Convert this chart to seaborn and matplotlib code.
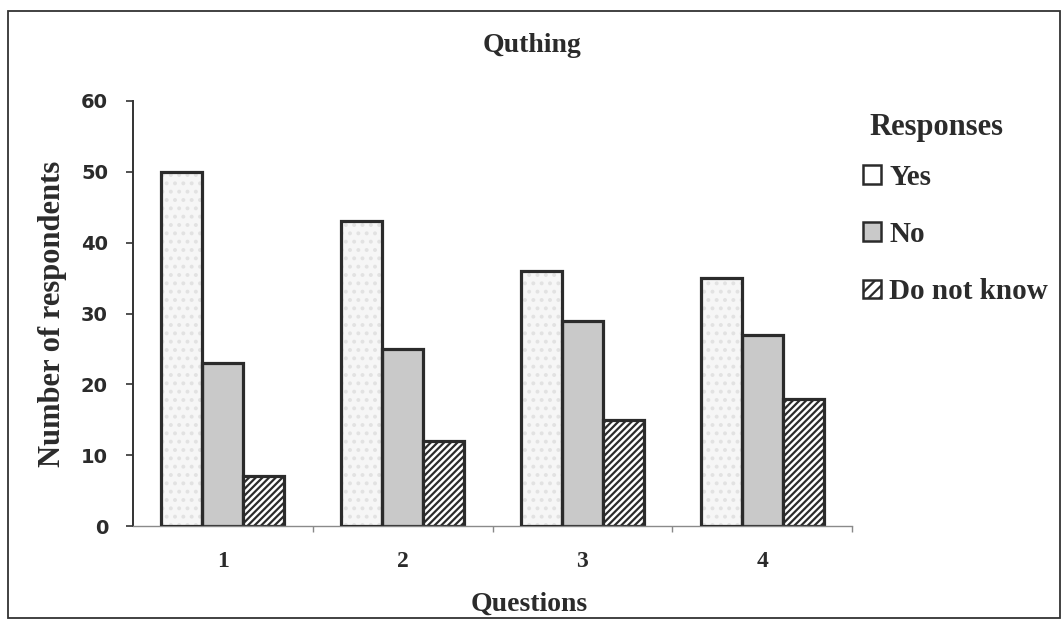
import matplotlib
matplotlib.use("Agg")
import matplotlib.pyplot as plt
import seaborn as sns
import pandas as pd
from matplotlib.patches import Rectangle, Patch
from matplotlib.ticker import FixedLocator

questions = ["1", "2", "3", "4"]
responses = ["Yes", "No", "Do not know"]
yes_counts = [50, 43, 36, 35]
no_counts = [23, 25, 29, 27]
dk_counts = [7, 12, 15, 18]

df = pd.DataFrame({
    "Question": questions * 3,
    "Response": [r for r in responses for _ in questions],
    "Count": yes_counts + no_counts + dk_counts,
})

sns.set_theme(style="white")
plt.rcParams["hatch.linewidth"] = 1.6
serif = ["Liberation Serif", "DejaVu Serif"]
ink = "#2b2b2b"

W, H = 1064, 621
fig = plt.figure(figsize=(W / 100, H / 100), dpi=100)
# plot area: x 133..852 px, y 101..526 px
ax = fig.add_axes([133 / W, 1 - 526 / H, (852 - 133) / W, (526 - 101) / H])

fills = ["#f6f6f6", "#c9c9c9", "#ffffff"]
hatches = ["", "", "/////"]

sns.barplot(data=df, x="Question", y="Count", hue="Response", order=questions,
            hue_order=responses, palette=fills, edgecolor=ink, linewidth=2.3,
            width=0.684, saturation=1, ax=ax, legend=False)
for cont, h in zip(ax.containers, hatches):
    for bar in cont:
        bar.set_hatch(h)

# faint dotted texture inside the "Yes" bars, outline redrawn on top
for bar in ax.containers[0]:
    bar.set_edgecolor("#e2e2e2")
    bar.set_hatch("..")
    bar.set_linewidth(0)
    ax.add_patch(Rectangle(bar.get_xy(), bar.get_width(), bar.get_height(),
                           fill=False, edgecolor=ink, linewidth=2.3, zorder=3))

ax.set_ylim(0, 60)
ax.set_xlim(-0.5, 3.5)
ax.set_yticks(range(0, 61, 10))
ax.set_yticklabels([str(v) for v in range(0, 61, 10)], fontfamily="DejaVu Sans",
                   fontweight="bold", fontsize=14, color=ink)
ax.set_xticks(range(len(questions)))
ax.set_xticklabels(questions, fontfamily=serif, fontweight="bold", fontsize=17,
                   color=ink)
ax.tick_params(axis="y", which="major", length=5, width=1.2, color="#333333",
               direction="out", left=True, pad=13)
ax.tick_params(axis="x", which="major", length=0, pad=18)
ax.xaxis.set_minor_locator(FixedLocator([0.5, 1.5, 2.5, 3.5]))
ax.tick_params(axis="x", which="minor", length=4, width=1, color="#888888",
               direction="out", bottom=True)

for side in ["top", "right"]:
    ax.spines[side].set_visible(False)
ax.spines["left"].set_color("#333333")
ax.spines["left"].set_linewidth(1.4)
ax.spines["bottom"].set_color("#8a8a8a")
ax.spines["bottom"].set_linewidth(1.0)

ax.set_xlabel("Questions", fontfamily=serif, fontweight="bold", fontsize=20,
              color=ink)
ax.xaxis.set_label_coords(0.551, -0.155)
ax.set_ylabel("Number of respondents", fontfamily=serif, fontweight="bold",
              fontsize=22, color=ink)
ax.yaxis.set_label_coords(-0.092, 0.5)

fig.text(0.5, 1 - 46 / H, "Quthing", ha="center", va="center",
         fontfamily=serif, fontweight="bold", fontsize=20, color=ink)

# legend heading and entries
fig.text(869 / W, 1 - 128 / H, "Responses", ha="left", va="center",
         fontfamily=serif, fontweight="bold", fontsize=22, color=ink)
handles = [Patch(facecolor=f, edgecolor=ink, hatch=h, linewidth=1.8)
           for f, h in zip(["#ffffff", "#c9c9c9", "#ffffff"], ["", "", "///"])]
leg = fig.legend(handles, responses, loc="upper left",
                 bbox_to_anchor=(863 / W, 1 - 164 / H), frameon=False,
                 handlelength=0.6, handleheight=0.6, handletextpad=0.3,
                 labelspacing=1.03, borderpad=0, borderaxespad=0,
                 prop={"family": serif, "weight": "bold", "size": 21})
for t in leg.get_texts():
    t.set_color(ink)

fig.patches.append(Rectangle((8 / W, 3 / H), 1052 / W, (H - 14) / H,
                             transform=fig.transFigure, fill=False,
                             edgecolor="#333333", linewidth=1.3))

fig.savefig("out.png", dpi=100)
